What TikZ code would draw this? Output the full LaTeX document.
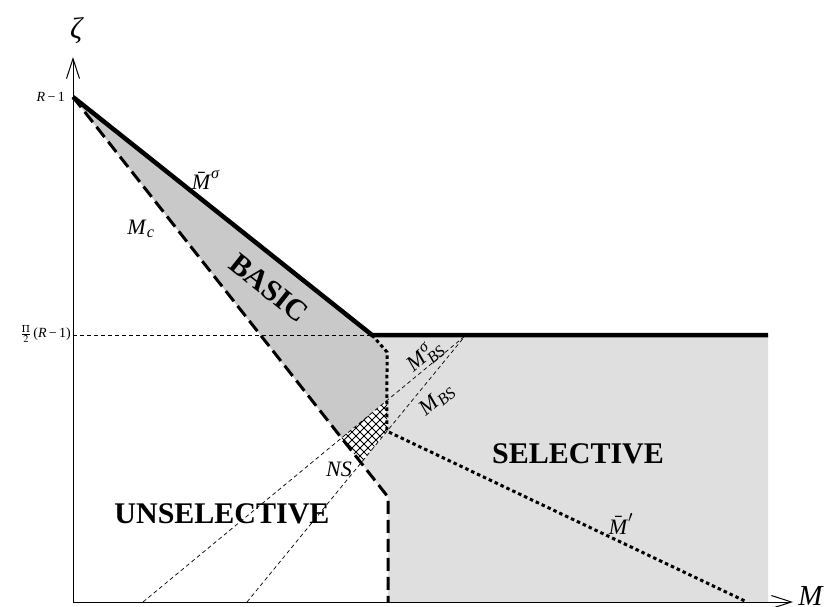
\documentclass[tikz,border=0pt]{standalone}
\usepackage{amsmath}
\usepackage{mathptmx}
\usepackage{fontspec}
\setmainfont{Liberation Serif}
\usetikzlibrary{arrows.meta}
\definecolor{basicgray}{gray}{0.79}
\definecolor{selgray}{gray}{0.875}
\newcommand{\ti}[1]{\textit{#1}}
\tikzset{
  axisline/.style={line width=1pt,-{Straight Barb[length=20pt,width=13pt,line width=1pt]}},
  boldline/.style={line width=4.5pt},
  bigdash/.style={line width=3pt,dash pattern=on 13pt off 6pt},
  dotline/.style={line width=3pt,dash pattern=on 3.5pt off 3pt},
  thindash/.style={line width=0.7pt,dash pattern=on 4pt off 3pt},
  hatchline/.style={line width=0.75pt},
  small/.style={font=\fontsize{14}{14}\selectfont},
  mlabel/.style={font=\fontsize{22}{22}\selectfont, inner sep=0pt},
  region/.style={font=\fontsize{30}{30}\selectfont\bfseries, inner sep=0pt},
}
\begin{document}
\begin{tikzpicture}[x=1pt,y=-1pt]
\useasboundingbox (0,0) rectangle (828,607);
% key points
\coordinate (O) at (73,602);
\coordinate (Ytip) at (73,57);
\coordinate (Xtip) at (793,602);
\coordinate (P0) at (73,97);
\coordinate (K) at (372,335);
\coordinate (E) at (768,335);
\coordinate (EB) at (768,602);
\coordinate (C1) at (388,497);
\coordinate (C2) at (388,602);
\coordinate (D1) at (387,352);
\coordinate (Dv) at (387,602);
\coordinate (D3) at (747,602);
\coordinate (Q) at (465,336);
\coordinate (A0) at (143,602);
\coordinate (B0) at (247,602);
\coordinate (Y2) at (73,335);
\coordinate (D2) at (intersection of D1--Dv and Q--B0);
\coordinate (NSp) at (intersection of P0--C1 and Q--A0);
\coordinate (AD) at (intersection of Q--A0 and D1--Dv);
\coordinate (BD) at (intersection of P0--C1 and Q--B0);
% fills
\fill[selgray] (P0) -- (K) -- (E) -- (EB) -- (C2) -- (C1) -- cycle;
\fill[basicgray] (P0) -- (K) -- (D1) -- (AD) -- (NSp) -- cycle;
\fill[white] (NSp) -- (AD) -- (D2) -- (BD) -- cycle;
\begin{scope}
  \clip (NSp) -- (AD) -- (D2) -- (BD) -- cycle;
  \foreach \c in {720,728,...,872} {
    \draw[hatchline] (\c-380,380) -- (\c-480,480);
  }
  \foreach \c in {-144,-136,...,8} {
    \draw[hatchline] (\c+380,380) -- (\c+480,480);
  }
\end{scope}
% thin dashed lines
\draw[thindash] (Y2) -- (K);
\draw[thindash] (A0) -- (Q);
\draw[thindash] (B0) -- (Q);
% boundaries
\draw[boldline] (P0) -- (K) -- (E);
\draw[bigdash] (P0) -- (C1) -- (C2);
\draw[dotline] (K) -- (D1) -- (D2) -- (D3);
% axes
\draw[axisline] (O) -- (Ytip);
\draw[axisline] (O) -- (Xtip);
% labels
\node[font=\fontsize{30}{30}\selectfont, inner sep=0pt] (zeta) at (77,31) {\ti{ζ}};
\node[font=\fontsize{29}{29}\selectfont, inner sep=0pt] (Mlab) at (811,596) {\ti{M}};
\node[small,anchor=east,inner sep=1pt] (r1) at (66,97) {\ti{R}\,−\,1};
\node[small,anchor=east,inner sep=1pt] (r2) at (72,334) {$\frac{\Pi}{2}$\,(\ti{R}\,−\,1)};
\node[mlabel] (ms) at (206,180) {$\bar{\text{\ti{M}}}^{\text{\ti{σ}}}$};
\node[mlabel] (mc) at (141,229) {$\text{\ti{M}}_{\text{\ti{c}}}$};
\node[region,rotate=-38.5] (basic) at (269,288) {BASIC};
\node[mlabel,rotate=40] (mbss) at (425,356) {$\text{\ti{M}}^{\text{\ti{σ}}}_{\text{\ti{BS}}}$};
\node[mlabel,rotate=40] (mbs) at (437,400) {$\text{\ti{M}}_{\text{\ti{BS}}}$};
\node[mlabel] (ns) at (339,469) {\ti{NS}};
\node[region] (unsel) at (222,514) {UNSELECTIVE};
\node[region] (sel) at (578,454) {SELECTIVE};
\node[mlabel] (mp) at (621,524) {$\bar{\text{\ti{M}}}'$};
\end{tikzpicture}
\end{document}
